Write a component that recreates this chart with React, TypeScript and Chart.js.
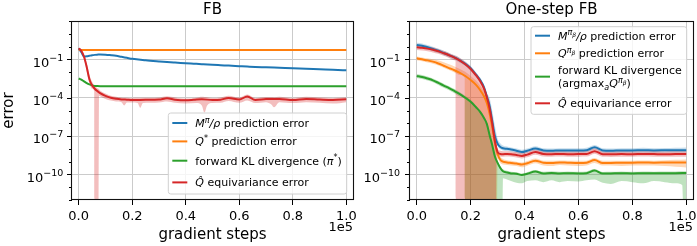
import React, { useEffect, useRef } from 'react';
import { Chart, registerables } from 'chart.js';

Chart.register(...registerables);

// ---------------- data ----------------
const xTickValues = [0, 20000, 40000, 60000, 80000, 100000];
const yTickExponents = [-12, -11, -10, -9, -8, -7, -6, -5, -4, -3, -2, -1, 0, 1, 2];
const yLabelExponents = [-1, -4, -7, -10];

// FB (left panel)
const fbSteps = [0, 1000, 2000, 3000, 4000, 5000, 6000, 7000, 8000, 10000, 12000, 14000, 16000, 18000, 20000, 25000, 30000, 33000, 36000, 40000, 43000, 46000, 50000, 53000, 56000, 60000, 63000, 66000, 70000, 75000, 80000, 85000, 90000, 95000, 100000];
const fbMPred = [0.724, 0.355, 0.166, 0.174, 0.191, 0.209, 0.224, 0.234, 0.24, 0.234, 0.214, 0.191, 0.158, 0.132, 0.11, 0.0851, 0.0692, 0.0617, 0.0562, 0.0501, 0.0457, 0.0417, 0.0372, 0.0347, 0.0324, 0.0295, 0.0275, 0.0257, 0.024, 0.0219, 0.02, 0.0182, 0.0166, 0.0151, 0.0138];
const fbQPred = [0.56, 0.54, 0.54, 0.54, 0.54, 0.54, 0.54, 0.54, 0.54, 0.54, 0.54, 0.54, 0.54, 0.54, 0.54, 0.54, 0.54, 0.54, 0.54, 0.54, 0.54, 0.54, 0.54, 0.54, 0.54, 0.54, 0.54, 0.54, 0.54, 0.54, 0.54, 0.54, 0.54, 0.54, 0.54];
const fbKL = [3.2e-3, 2.6e-3, 1.9e-3, 1.4e-3, 1.1e-3, 9.2e-4, 8.4e-4, 8.1e-4, 8.0e-4, 8.0e-4, 8.0e-4, 8.0e-4, 8.0e-4, 8.0e-4, 8.0e-4, 8.0e-4, 8.0e-4, 8.0e-4, 8.0e-4, 8.0e-4, 8.0e-4, 8.0e-4, 8.0e-4, 8.0e-4, 8.0e-4, 8.0e-4, 8.0e-4, 8.0e-4, 8.0e-4, 8.0e-4, 8.0e-4, 8.0e-4, 8.0e-4, 8.0e-4, 8.0e-4];
const fbEquiv = [0.72, 0.45, 0.16, 0.025, 2.8e-3, 9.5e-4, 5e-4, 3.3e-4, 2.3e-4, 1.4e-4, 1.0e-4, 8.3e-5, 7.4e-5, 7.0e-5, 6.6e-5, 6.9e-5, 7.2e-5, 8.9e-5, 7.0e-5, 6.2e-5, 6.8e-5, 7.6e-5, 6.6e-5, 7.0e-5, 9.5e-5, 7.2e-5, 1.25e-4, 6.6e-5, 7.8e-5, 8.1e-5, 6.6e-5, 8.1e-5, 7.2e-5, 6.6e-5, 7.6e-5];
const fbEquivBandSteps = [0, 1000, 2000, 3000, 4000, 5000, 5800, 6000, 7400, 7600, 8000, 10000, 12000, 14000, 16000, 17000, 18000, 20000, 22000, 23000, 24000, 27000, 30000, 33000, 36000, 40000, 44000, 46000, 47000, 48000, 50000, 53000, 56000, 60000, 63000, 66000, 70000, 72000, 73000, 75000, 80000, 85000, 90000, 95000, 100000];
const fbEquivLow = [0.6, 0.33, 0.1, 0.012, 1.4e-3, 5e-4, 3.2e-4, 1e-13, 1e-13, 1.4e-4, 1.3e-4, 8e-5, 6e-5, 5e-5, 4.5e-5, 2.5e-5, 4.2e-5, 4.2e-5, 3.8e-5, 1.6e-5, 3.8e-5, 4e-5, 4.2e-5, 5e-5, 4e-5, 3.5e-5, 3.8e-5, 2.5e-5, 7e-6, 2.5e-5, 3.8e-5, 4e-5, 5.5e-5, 4e-5, 6e-5, 3.8e-5, 4.5e-5, 3e-5, 1.8e-5, 4.5e-5, 3.8e-5, 4.5e-5, 4e-5, 3.5e-5, 4.5e-5];
const fbEquivHigh = [0.85, 0.6, 0.25, 0.05, 6e-3, 1.8e-3, 9e-4, 8e-4, 5e-4, 4.5e-4, 3.6e-4, 2.1e-4, 1.45e-4, 1.2e-4, 1.05e-4, 1.0e-4, 1.0e-4, 9.5e-5, 9.8e-5, 1.0e-4, 1.0e-4, 1.0e-4, 1.05e-4, 1.3e-4, 1.05e-4, 8.5e-5, 1.0e-4, 1.2e-4, 1.15e-4, 1.1e-4, 9.5e-5, 1.05e-4, 1.45e-4, 1.05e-4, 1.8e-4, 9.5e-5, 1.15e-4, 1.15e-4, 1.1e-4, 1.2e-4, 9.5e-5, 1.2e-4, 1.05e-4, 9.5e-5, 1.1e-4];

// One-step FB (right panel)
const osSteps = [0, 2000, 4000, 6000, 8000, 10000, 12000, 14000, 16000, 18000, 20000, 22000, 23500, 25000, 26000, 27000, 28000, 29000, 30000, 31000, 32000, 33500, 35000, 37000, 39000, 41000, 44000, 47000, 50000, 53000, 56000, 60000, 63000, 66000, 69000, 72000, 76000, 80000, 84000, 88000, 92000, 96000, 100000];
const osMPred = [1.32, 1.17, 0.891, 0.661, 0.468, 0.316, 0.214, 0.141, 0.0832, 0.0447, 0.02, 6.31e-3, 2.51e-3, 6.31e-4, 1.26e-4, 2.51e-5, 1.58e-6, 1e-7, 2.51e-8, 1.41e-8, 1.12e-8, 1e-8, 8.91e-9, 7.08e-9, 5.62e-9, 7.08e-9, 1.05e-8, 7.59e-9, 7.08e-9, 7.59e-9, 7.41e-9, 7.59e-9, 7.94e-9, 1.32e-8, 7.59e-9, 7.08e-9, 7.59e-9, 7.59e-9, 7.94e-9, 7.59e-9, 7.76e-9, 7.94e-9, 7.94e-9];
const osMPredHigh = [1.98, 1.76, 1.34, 0.99, 0.7, 0.48, 0.32, 0.21, 0.125, 0.067, 0.03, 9.5e-3, 3.8e-3, 9.5e-4, 2.2e-4, 1e-4, 1e-5, 6.3e-7, 6.3e-8, 2.8e-8, 1.8e-8, 1.5e-8, 1.3e-8, 1.05e-8, 8.5e-9, 1.05e-8, 1.6e-8, 1.1e-8, 1.05e-8, 1.1e-8, 1.1e-8, 1.1e-8, 1.2e-8, 2e-8, 1.1e-8, 1.05e-8, 1.1e-8, 1.1e-8, 1.2e-8, 1.1e-8, 1.15e-8, 1.2e-8, 1.3e-8];
const osMPredLow = [0.88, 0.78, 0.59, 0.44, 0.31, 0.21, 0.14, 0.094, 0.055, 0.03, 0.013, 4.2e-3, 1.7e-3, 4.2e-4, 8.4e-5, 1.7e-5, 1e-6, 6e-8, 1.7e-8, 9.4e-9, 7.5e-9, 6.7e-9, 5.9e-9, 4.7e-9, 3.7e-9, 4.7e-9, 7e-9, 5e-9, 4.7e-9, 5e-9, 4.9e-9, 5e-9, 5.3e-9, 8.8e-9, 5e-9, 4.7e-9, 5e-9, 5e-9, 5.3e-9, 5e-9, 5.2e-9, 5.3e-9, 5.3e-9];
const osQPred = [0.12, 0.1, 0.0832, 0.0661, 0.0479, 0.0316, 0.0209, 0.0141, 8.91e-3, 5.01e-3, 2.4e-3, 1e-3, 3.98e-4, 1.26e-4, 3.98e-5, 6.31e-6, 5.01e-7, 3.16e-8, 3.98e-9, 1.41e-9, 1e-9, 8.71e-10, 7.94e-10, 7.08e-10, 6.03e-10, 7.59e-10, 1.2e-9, 8.32e-10, 7.94e-10, 8.71e-10, 8.32e-10, 7.94e-10, 8.32e-10, 1.32e-9, 7.94e-10, 7.94e-10, 8.32e-10, 8.32e-10, 8.51e-10, 8.32e-10, 8.51e-10, 8.71e-10, 8.71e-10];
const osKL = [5.01e-3, 4.17e-3, 3.16e-3, 2.29e-3, 1.45e-3, 8.91e-4, 5.62e-4, 3.31e-4, 1.91e-4, 1e-4, 4.79e-5, 1.78e-5, 7.94e-6, 2.51e-6, 8.91e-7, 1.26e-7, 2e-8, 2.51e-9, 7.94e-10, 3.16e-10, 1.78e-10, 1.41e-10, 1.2e-10, 1.12e-10, 8.91e-11, 1.12e-10, 1.66e-10, 1.2e-10, 1.32e-10, 1.2e-10, 1.26e-10, 1.2e-10, 1.26e-10, 2e-10, 1.17e-10, 1.2e-10, 1.26e-10, 1.2e-10, 1.26e-10, 1.23e-10, 1.26e-10, 1.26e-10, 1.32e-10];
const osEquiv = [0.871, 0.794, 0.692, 0.562, 0.427, 0.302, 0.209, 0.138, 0.0794, 0.0417, 0.0178, 5.62e-3, 2e-3, 5.01e-4, 1.12e-4, 1.58e-5, 1e-6, 3.98e-8, 5.62e-9, 3.98e-9, 3.8e-9, 3.98e-9, 3.8e-9, 3.31e-9, 2.82e-9, 3.55e-9, 5.62e-9, 3.98e-9, 3.8e-9, 3.98e-9, 3.8e-9, 3.89e-9, 3.98e-9, 6.61e-9, 3.8e-9, 3.72e-9, 3.89e-9, 3.8e-9, 3.98e-9, 3.89e-9, 3.8e-9, 3.89e-9, 3.89e-9];

const osEquivBandSteps = [0, 2000, 4000, 6000, 8000, 10000, 12000, 14000, 14400, 14600, 16000, 18000, 20000, 22000, 23500, 25000, 26000, 27000, 28000, 29000, 29400, 29600, 30000, 31000, 32000, 33500, 35000, 37000, 39000, 41000, 44000, 47000, 50000, 53000, 56000, 60000, 63000, 66000, 69000, 72000, 76000, 80000, 84000, 88000, 92000, 96000, 100000];
const osEquivHigh = [1.3, 1.2, 1.05, 0.87, 0.66, 0.47, 0.32, 0.21, 0.195, 0.19, 0.125, 0.066, 0.028, 8.9e-3, 3.2e-3, 8e-4, 1.8e-4, 2.5e-5, 1.6e-6, 8e-8, 3e-8, 2e-8, 1e-8, 7e-9, 6.5e-9, 6.5e-9, 6.3e-9, 5.6e-9, 4.8e-9, 6e-9, 9e-9, 6.5e-9, 6.3e-9, 6.5e-9, 6.3e-9, 6.4e-9, 6.5e-9, 1.1e-8, 6.3e-9, 6.2e-9, 6.4e-9, 6.3e-9, 6.5e-9, 6.4e-9, 6.3e-9, 6.4e-9, 6.4e-9];
const osEquivLow = [0.55, 0.5, 0.44, 0.35, 0.27, 0.19, 0.13, 0.087, 0.08, 1e-13, 1e-13, 1e-13, 1e-13, 1e-13, 1e-13, 1e-13, 1e-13, 1e-13, 1e-13, 1e-13, 1e-13, 3e-9, 3.5e-9, 2.5e-9, 2.4e-9, 2.5e-9, 2.4e-9, 2.1e-9, 1.8e-9, 2.2e-9, 3.5e-9, 2.5e-9, 2.4e-9, 2.5e-9, 2.4e-9, 2.45e-9, 2.5e-9, 4.2e-9, 2.4e-9, 2.35e-9, 2.45e-9, 2.4e-9, 2.5e-9, 2.45e-9, 2.4e-9, 2.45e-9, 2.45e-9];

const osQBandSteps = [0, 2000, 4000, 6000, 8000, 10000, 12000, 14000, 16000, 17800, 18000, 20000, 22000, 23500, 25000, 26000, 27000, 28000, 29000, 29800, 30000, 31000, 32000, 33500, 35000, 37000, 39000, 41000, 44000, 47000, 50000, 53000, 56000, 60000, 63000, 66000, 69000, 72000, 76000, 80000, 84000, 88000, 92000, 96000, 100000];
const osQHigh = [0.17, 0.14, 0.12, 0.1, 0.08, 0.06, 0.042, 0.028, 0.018, 0.011, 0.0105, 5e-3, 2.2e-3, 9e-4, 3e-4, 1e-4, 2e-5, 2e-6, 1.2e-7, 1.2e-8, 8e-9, 2.5e-9, 1.6e-9, 1.3e-9, 1.15e-9, 1e-9, 8.5e-10, 1.1e-9, 1.8e-9, 1.2e-9, 1.15e-9, 1.25e-9, 1.2e-9, 1.15e-9, 1.2e-9, 1.9e-9, 1.15e-9, 1.15e-9, 1.2e-9, 1.2e-9, 1.25e-9, 1.2e-9, 1.3e-9, 1.4e-9, 1.5e-9];
const osQLow = [0.085, 0.07, 0.058, 0.046, 0.033, 0.022, 0.0145, 9.5e-3, 6e-3, 3.6e-3, 1e-13, 1e-13, 1e-13, 1e-13, 1e-13, 1e-13, 1e-13, 1e-13, 1e-13, 1e-13, 1.8e-9, 8e-10, 6e-10, 5.5e-10, 5e-10, 4.5e-10, 3.6e-10, 4.8e-10, 7.5e-10, 5e-10, 4.5e-10, 5.5e-10, 5e-10, 4.5e-10, 5e-10, 8e-10, 5e-10, 5e-10, 4.5e-10, 5e-10, 5e-10, 5e-10, 4.5e-10, 4e-10, 3.5e-10];

const osKLBandSteps = [0, 2000, 4000, 6000, 8000, 10000, 12000, 14000, 16000, 17800, 18000, 20000, 22000, 23500, 25000, 26000, 27000, 28000, 29000, 30000, 31000, 31800, 32000, 33500, 35000, 37000, 39000, 41000, 44000, 47000, 50000, 53000, 56000, 60000, 63000, 66000, 69000, 72000, 76000, 80000, 84000, 88000, 92000, 96000, 98500, 99000, 100000];
const osKLHigh = [7e-3, 5.9e-3, 4.5e-3, 3.2e-3, 2.05e-3, 1.26e-3, 8e-4, 4.7e-4, 2.7e-4, 1.5e-4, 1.4e-4, 6.8e-5, 2.5e-5, 1.1e-5, 3.6e-6, 1.3e-6, 1.8e-7, 3e-8, 3.8e-9, 1.2e-9, 4.5e-10, 2.7e-10, 2.5e-10, 1.9e-10, 1.6e-10, 1.5e-10, 1.2e-10, 1.5e-10, 2.2e-10, 1.6e-10, 1.75e-10, 1.6e-10, 1.7e-10, 1.6e-10, 1.7e-10, 2.6e-10, 1.55e-10, 1.6e-10, 1.7e-10, 1.6e-10, 1.7e-10, 1.65e-10, 1.7e-10, 1.7e-10, 1.75e-10, 1.75e-10, 1.8e-10];
const osKLLow = [3.5e-3, 2.9e-3, 2.2e-3, 1.6e-3, 1e-3, 6e-4, 3.8e-4, 2.2e-4, 1.25e-4, 7e-5, 1e-13, 1e-13, 1e-13, 1e-13, 1e-13, 1e-13, 1e-13, 1e-13, 1e-13, 1e-13, 1e-13, 1e-13, 5e-11, 4e-11, 3e-11, 2.2e-11, 2e-11, 3e-11, 3.5e-11, 2.5e-11, 3.5e-11, 2.5e-11, 3e-11, 2.8e-11, 3.5e-11, 4e-11, 2.2e-11, 1.8e-11, 3e-11, 2.5e-11, 2e-11, 3e-11, 2.5e-11, 2e-11, 1.5e-11, 1e-13, 1e-13];

// legend labels (rich text segments)
type Seg = { t: string; it?: boolean; sup?: boolean; sub?: boolean; ss?: boolean };
const fbLegendLabels: Seg[][][] = [
  [[{ t: 'M', it: true }, { t: 'π', it: true, sup: true }, { t: '/', it: true }, { t: 'ρ', it: true }, { t: ' prediction error' }]],
  [[{ t: 'Q', it: true }, { t: '*', sup: true }, { t: ' prediction error' }]],
  [[{ t: 'forward KL divergence (' }, { t: 'π', it: true }, { t: '*', sup: true }, { t: ')' }]],
  [[{ t: 'Q\u0302', it: true }, { t: ' equivariance error' }]],
];
const osLegendLabels: Seg[][][] = [
  [[{ t: 'M', it: true }, { t: 'π', it: true, sup: true }, { t: 'β', it: true, ss: true }, { t: '/', it: true }, { t: 'ρ', it: true }, { t: ' prediction error' }]],
  [[{ t: 'Q', it: true }, { t: 'π', it: true, sup: true }, { t: 'β', it: true, ss: true }, { t: ' prediction error' }]],
  [[{ t: 'forward KL divergence' }], [{ t: '(argmax' }, { t: 'a', it: true, sub: true }, { t: 'Q', it: true }, { t: 'π', it: true, sup: true }, { t: 'β', it: true, ss: true }, { t: ')' }]],
  [[{ t: 'Q\u0302', it: true }, { t: ' equivariance error' }]],
];

// ---------------- styling ----------------
const FONT = "'DejaVu Sans', sans-serif";
const GRID = '#cbcbcb';
const BLUE = '#1f77b4';
const ORANGE = '#ff7f0e';
const GREEN = '#2ca02c';
const RED = '#d62728';
const SERIES_COLORS = [BLUE, ORANGE, GREEN, RED];

function isLabelled(v: number): boolean {
  return yLabelExponents.includes(Math.round(Math.log10(v)));
}
function rgba(hex: string, a: number) {
  const n = parseInt(hex.slice(1), 16);
  return `rgba(${(n >> 16) & 255},${(n >> 8) & 255},${n & 255},${a})`;
}

const LEG = 11;
function segFont(s: Seg) {
  const size = s.ss ? 6 : s.sup || s.sub ? 8 : LEG;
  return `${s.it ? 'italic ' : ''}${size}px ${FONT}`;
}
function segDy(s: Seg) {
  return s.ss ? -2.4 : s.sup ? -4.4 : s.sub ? 2.2 : 0;
}
function drawRich(ctx: CanvasRenderingContext2D, segs: Seg[], x: number, y: number, draw: boolean) {
  let cx = x;
  for (const s of segs) {
    ctx.font = segFont(s);
    if (draw) ctx.fillText(s.t, cx, y + segDy(s));
    cx += ctx.measureText(s.t).width;
  }
  return cx - x;
}

interface LegendSpec {
  labels: Seg[][][];
  corner: 'br' | 'tr';
  height: number;
  rows: number[][];
}
interface LineSpec { steps: number[]; values: number[]; color: string; order: number }
interface BandSpec { steps: number[]; low: number[]; high: number[]; color: string; alpha: number; order: number }
interface PanelSpec {
  title: string;
  yTitle: string;
  yAxisWidth: number;
  yLabelGap: number;
  padRight: number;
  canvasLeft: number;
  canvasWidth: number;
  lines: LineSpec[];
  bands: BandSpec[];
  legend: LegendSpec;
}

const fbSpec: PanelSpec = {
  title: 'FB',
  yTitle: 'error',
  yAxisWidth: 72,
  yLabelGap: 8.7,
  padRight: 9,
  canvasLeft: 0,
  canvasWidth: 362,
  bands: [{ steps: fbEquivBandSteps, low: fbEquivLow, high: fbEquivHigh, color: RED, alpha: 0.3, order: 10 }],
  lines: [
    { steps: fbSteps, values: fbMPred, color: BLUE, order: 3 },
    { steps: fbSteps, values: fbQPred, color: ORANGE, order: 2 },
    { steps: fbSteps, values: fbKL, color: GREEN, order: 1 },
    { steps: fbSteps, values: fbEquiv, color: RED, order: 0 },
  ],
  legend: { labels: fbLegendLabels, corner: 'br', height: 81, rows: [[10], [28.4], [47.7], [69.4]] },
};

const osSpec: PanelSpec = {
  title: 'One-step FB',
  yTitle: '',
  yAxisWidth: 54,
  yLabelGap: 10,
  padRight: 4,
  canvasLeft: 356,
  canvasWidth: 341,
  bands: [
    { steps: osSteps, low: osMPredLow, high: osMPredHigh, color: BLUE, alpha: 0.25, order: 13 },
    { steps: osQBandSteps, low: osQLow, high: osQHigh, color: ORANGE, alpha: 0.3, order: 12 },
    { steps: osKLBandSteps, low: osKLLow, high: osKLHigh, color: GREEN, alpha: 0.3, order: 11 },
    { steps: osEquivBandSteps, low: osEquivLow, high: osEquivHigh, color: RED, alpha: 0.3, order: 10 },
  ],
  lines: [
    { steps: osSteps, values: osMPred, color: BLUE, order: 3 },
    { steps: osSteps, values: osQPred, color: ORANGE, order: 2 },
    { steps: osSteps, values: osKL, color: GREEN, order: 1 },
    { steps: osSteps, values: osEquiv, color: RED, order: 0 },
  ],
  legend: { labels: osLegendLabels, corner: 'tr', height: 87.6, rows: [[9], [26.6], [43.3, 56.6], [76.6]] },
};

function buildConfig(spec: PanelSpec): any {
  const datasets: any[] = [];
  for (const b of spec.bands) {
    datasets.push({
      data: b.steps.map((x, i) => ({ x, y: b.high[i] })),
      borderColor: 'rgba(0,0,0,0)', borderWidth: 0, pointRadius: 0, fill: false,
      order: b.order, cubicInterpolationMode: 'monotone',
    });
    datasets.push({
      data: b.steps.map((x, i) => ({ x, y: b.low[i] })),
      borderColor: 'rgba(0,0,0,0)', borderWidth: 0, pointRadius: 0, fill: '-1',
      backgroundColor: rgba(b.color, b.alpha),
      order: b.order, cubicInterpolationMode: 'monotone',
    });
  }
  for (const l of spec.lines) {
    datasets.push({
      data: l.steps.map((x, i) => ({ x, y: l.values[i] })),
      borderColor: l.color, borderWidth: 2, pointRadius: 0, fill: false,
      order: l.order, cubicInterpolationMode: 'monotone', borderCapStyle: 'butt',
    });
  }

  const decor = {
    id: 'decor',
    afterDraw(chart: any) {
      const { ctx, chartArea: a } = chart;
      const ys = chart.scales.y;
      ctx.save();
      // y tick marks (major + minor) and mathtext-like labels
      ctx.strokeStyle = '#000';
      ctx.lineWidth = 1;
      for (const e of yTickExponents) {
        const yv = ys.getPixelForValue(Math.pow(10, e));
        const py = Math.round(yv) + 0.5;
        const major = yLabelExponents.includes(e);
        const len = major ? 5 : 3;
        ctx.beginPath();
        ctx.moveTo(a.left - len, py);
        ctx.lineTo(a.left, py);
        ctx.stroke();
        if (major) {
          const expText = '\u2212' + String(-e);
          ctx.fillStyle = '#000';
          ctx.textAlign = 'left';
          ctx.textBaseline = 'alphabetic';
          ctx.font = `9.5px ${FONT}`;
          const ew = ctx.measureText(expText).width;
          ctx.font = `13px ${FONT}`;
          const bw = ctx.measureText('10').width;
          const xr = a.left - spec.yLabelGap;
          const base = yv + 7.2;
          ctx.fillText('10', xr - ew - bw, base);
          ctx.font = `9.5px ${FONT}`;
          ctx.fillText(expText, xr - ew, base - 6);
        }
      }
      // spines
      ctx.lineWidth = 1.1;
      ctx.strokeStyle = '#111';
      ctx.strokeRect(Math.round(a.left) - 0.5, Math.round(a.top) + 0.5, Math.round(a.right - a.left) + 1, Math.round(a.bottom - a.top) - 1);

      // title
      ctx.fillStyle = '#000';
      ctx.font = `15px ${FONT}`;
      ctx.textAlign = 'center';
      ctx.textBaseline = 'alphabetic';
      ctx.fillText(spec.title, (a.left + a.right) / 2, 14);
      // offset text
      ctx.font = `13px ${FONT}`;
      ctx.textAlign = 'right';
      ctx.fillText('1e5', a.right, 231);

      // legend
      const lg = spec.legend;
      ctx.textAlign = 'left';
      let maxW = 0;
      lg.labels.forEach((row) => row.forEach((line) => { maxW = Math.max(maxW, drawRich(ctx, line, 0, 0, false)); }));
      const bw = 27 + maxW + 5;
      const right = a.right - 6.3;
      const left = right - bw;
      const top = lg.corner === 'br' ? a.bottom - 6 - lg.height : a.top + 5.7;
      ctx.beginPath();
      if ((ctx as any).roundRect) (ctx as any).roundRect(left, top, bw, lg.height, 2.5);
      else ctx.rect(left, top, bw, lg.height);
      ctx.fillStyle = 'rgba(255,255,255,0.8)';
      ctx.fill();
      ctx.strokeStyle = '#d0d0d0';
      ctx.lineWidth = 1;
      ctx.stroke();
      lg.labels.forEach((row, ri) => {
        const ysRow = lg.rows[ri];
        const hy = ysRow.reduce((s, v) => s + v, 0) / ysRow.length + top;
        ctx.strokeStyle = SERIES_COLORS[ri];
        ctx.lineWidth = 2;
        ctx.beginPath();
        ctx.moveTo(left + 4, hy);
        ctx.lineTo(left + 19, hy);
        ctx.stroke();
        ctx.fillStyle = '#000';
        row.forEach((line, li) => {
          drawRich(ctx, line, left + 27, top + ysRow[li] + 4, true);
        });
      });
      ctx.restore();
    },
  };

  return {
    type: 'line',
    data: { datasets },
    plugins: [decor],
    options: {
      responsive: false,
      animation: false,
      events: [],
      layout: { padding: { top: 21, right: spec.padRight, bottom: 0, left: 0 } },
      plugins: {
        legend: { display: false },
        tooltip: { enabled: false },
        title: { display: false },
        filler: { drawTime: 'beforeDatasetsDraw' },
      },
      scales: {
        x: {
          type: 'linear',
          min: -2500,
          max: 102500,
          afterBuildTicks: (s: any) => { s.ticks = xTickValues.map((v) => ({ value: v })); },
          afterFit: (s: any) => { s.height = 46; s.paddingLeft = 0; s.paddingRight = 0; },
          ticks: {
            autoSkip: false, maxRotation: 0, minRotation: 0, padding: 4, color: '#000',
            font: { family: FONT, size: 13 },
            callback: (v: any) => (Number(v) / 1e5).toFixed(1),
          },
          grid: { color: GRID, lineWidth: 1, drawTicks: true, tickLength: 5, tickColor: '#000', tickWidth: 1 },
          border: { display: false },
          title: { display: true, text: 'gradient steps', color: '#000', font: { family: FONT, size: 15 }, padding: { top: 0, bottom: 2 } },
        },
        y: {
          type: 'logarithmic',
          min: 1e-12,
          max: 100,
          afterBuildTicks: (s: any) => { s.ticks = yTickExponents.map((e) => ({ value: Math.pow(10, e) })); },
          afterFit: (s: any) => { s.width = spec.yAxisWidth; s.paddingTop = 0; s.paddingBottom = 0; },
          ticks: {
            autoSkip: false, padding: 9, color: '#000',
            font: { family: FONT, size: 13 },
            callback: () => '',
          },
          grid: {
            drawTicks: false,
            lineWidth: 1,
            color: (c: any) => (c.tick && isLabelled(c.tick.value) ? GRID : 'rgba(0,0,0,0)'),
          },
          border: { display: false },
          title: { display: spec.yTitle !== '', text: spec.yTitle, color: '#000', font: { family: FONT, size: 15 }, padding: { top: 0, bottom: 0 } },
        },
      },
    },
  };
}

function Panel({ spec }: { spec: PanelSpec }) {
  const ref = useRef<HTMLCanvasElement>(null);
  useEffect(() => {
    const chart = new Chart(ref.current as HTMLCanvasElement, buildConfig(spec));
    return () => chart.destroy();
  }, [spec]);
  return (
    <canvas
      ref={ref}
      width={spec.canvasWidth}
      height={246}
      style={{ position: 'absolute', left: spec.canvasLeft, top: 0, width: spec.canvasWidth, height: 246 }}
    />
  );
}

export default function App() {
  return (
    <div style={{ position: 'fixed', left: 0, top: 0, width: 697, height: 246, overflow: 'hidden', background: '#fff' }}>
      <Panel spec={fbSpec} />
      <Panel spec={osSpec} />
    </div>
  );
}
